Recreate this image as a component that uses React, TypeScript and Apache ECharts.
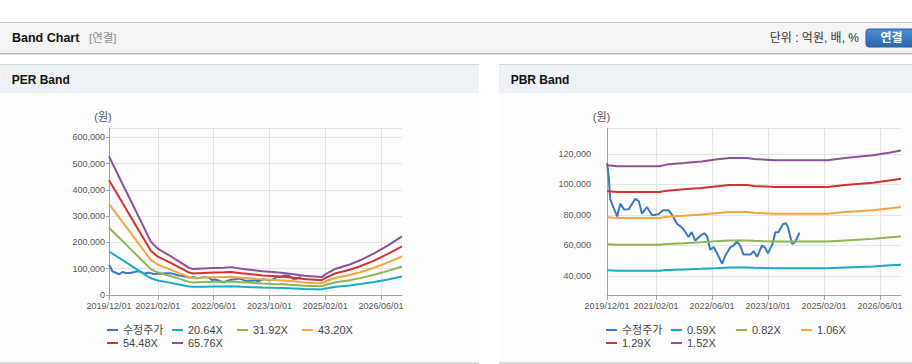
import React, { useEffect, useRef } from "react";
import * as echarts from "echarts";

// ---- x axis (monthly categories from 2019/12) ----
const START_YEAR = 2019;
const START_MONTH = 12;
const MONTH_COUNT = 85; // 2019/12 .. 2026/12
const tickIndices = [0, 14, 30, 46, 62, 78];
const tickLabels = ["2019/12/01", "2021/02/01", "2022/06/01", "2023/10/01", "2025/02/01", "2026/06/01"];

// ---- adjusted price (month offset from 2019/12, won) ----
const priceMonths = [0, 0.45, 0.95, 1.9, 2.9, 3.8, 4.9, 6.2, 8.1, 9.1, 10, 11.4, 12.9, 14.7, 16, 17.6, 18.6, 20, 21, 21.9, 23.3, 24.2, 25.2, 26.7, 27.8, 28.6, 29.5, 30.5, 31.4, 32.9, 33.8, 35.2, 36.2, 37.1, 38.1, 39, 41, 41.9, 42.9, 44.3, 45.2, 46, 47.3, 48.1, 49, 50.3, 51.1, 51.7, 52.9, 53.7, 54.3, 55];
const priceValues = [114000, 106000, 90000, 84600, 79000, 87400, 83500, 83800, 90600, 89000, 80800, 85200, 79800, 80400, 83000, 83000, 80000, 74200, 72500, 70500, 65500, 68700, 63200, 66400, 68000, 66000, 57200, 59000, 55000, 48000, 53300, 58700, 60000, 62700, 59500, 54000, 54000, 56200, 52500, 60000, 58400, 54800, 61000, 68700, 68700, 74000, 74500, 72000, 61000, 62000, 64900, 68400];

// ---- PER band ----
const perMonths = [0, 3, 6, 9, 12, 14, 17, 20, 23, 24, 27, 30, 33, 35, 38, 41, 44, 47, 50, 53, 56, 59, 61, 62, 65, 69, 72, 76, 80, 84];
const per2064 = [165400, 140000, 114600, 89100, 63700, 55200, 48000, 40200, 32300, 31100, 31700, 32300, 32700, 33300, 31400, 29800, 28300, 27300, 26400, 24800, 22900, 22000, 21300, 24500, 31400, 36400, 41400, 49600, 59300, 70000];
const per3192 = [255800, 216500, 177200, 137900, 98500, 85400, 74300, 62100, 50000, 48000, 49000, 50000, 50500, 51500, 48600, 46100, 43700, 42200, 40800, 38300, 35400, 34000, 33000, 37900, 48600, 56300, 64100, 76700, 91700, 108200];
const per4320 = [346200, 293000, 239800, 186600, 133400, 115600, 100500, 84100, 67700, 65000, 66400, 67700, 68300, 69600, 65700, 62400, 59100, 57200, 55200, 51900, 48000, 46000, 44700, 51200, 65700, 76200, 86700, 103800, 124200, 146500];
const per5448 = [436600, 369500, 302400, 235300, 168200, 145800, 126800, 106000, 85300, 82000, 83700, 85300, 86200, 87800, 82900, 78700, 74600, 72100, 69600, 65400, 60500, 58000, 56300, 64600, 82900, 96100, 109400, 130900, 156600, 184700];
const per6576 = [527000, 446000, 365000, 284000, 203000, 176000, 153000, 128000, 103000, 99000, 101000, 103000, 104000, 106000, 100000, 95000, 90000, 87000, 84000, 79000, 73000, 70000, 68000, 78000, 100000, 116000, 132000, 158000, 189000, 223000];
const perNames = ["20.64X", "31.92X", "43.20X", "54.48X", "65.76X"];

// ---- PBR band ----
const pbrMonths = [0, 3, 15, 17, 22, 27, 31, 35, 40, 42, 48, 63, 68, 76, 81, 84];
const pbr059 = [43700, 43400, 43400, 43900, 44300, 44700, 45100, 45600, 45600, 45300, 45000, 45000, 45600, 46200, 47000, 47400];
const pbr082 = [60700, 60400, 60400, 61000, 61500, 62100, 62700, 63300, 63300, 63000, 62500, 62500, 63300, 64300, 65300, 65900];
const pbr106 = [78500, 78000, 78000, 78800, 79500, 80300, 81100, 81900, 81900, 81400, 80800, 80800, 81900, 83100, 84400, 85200];
const pbr129 = [95500, 95000, 95000, 95900, 96800, 97700, 98700, 99600, 99600, 99000, 98300, 98300, 99600, 101100, 102700, 103700];
const pbr152 = [112500, 111900, 111900, 113000, 114000, 115100, 116300, 117400, 117400, 116700, 115800, 115800, 117400, 119100, 121000, 122200];
const pbrNames = ["0.59X", "0.82X", "1.06X", "1.29X", "1.52X"];

const PRICE_NAME = "수정주가";
const bandColors = ["#19abc6", "#8cb551", "#f4a53c", "#d3312c", "#8f4f9c"];
const priceColor = "#3b78c4";
const FF = "'Liberation Sans', Arial, 'Noto Sans CJK KR', sans-serif";

function buildCategories(): string[] {
  const out: string[] = [];
  for (let i = 0; i < MONTH_COUNT; i++) {
    const t = START_MONTH - 1 + i;
    const y = START_YEAR + Math.floor(t / 12);
    const m = (t % 12) + 1;
    out.push(`${y}/${m < 10 ? "0" + m : m}/01`);
  }
  return out;
}

function pairs(xs: number[], ys: number[]) {
  return xs.map((x, i) => [x, ys[i]]);
}

export default function App() {
  const ref = useRef<HTMLDivElement>(null);

  useEffect(() => {
    if (!ref.current) return;
    const chart = echarts.init(ref.current, undefined, { renderer: "svg" });
    const categories = buildCategories();
    const showIdx = (idx: number) => tickIndices.includes(idx);
    const labelFmt = (v: string) => (tickLabels.includes(v) ? v : "");

    const catAxis = (gridIndex: number) => ({
      type: "category",
      gridIndex,
      position: "bottom",
      offset: 0,
      data: categories,
      boundaryGap: false,
      axisLine: { lineStyle: { color: "#a0a0a0" } },
      axisTick: { interval: showIdx, length: 5, lineStyle: { color: "#a0a0a0" } },
      axisLabel: { interval: showIdx, formatter: labelFmt, fontSize: 9, color: "#555", margin: 6, fontFamily: FF },
      splitLine: { show: true, interval: showIdx, lineStyle: { color: "#e4e4e4" } },
    });
    const valAxis = (gridIndex: number) => ({ type: "value", gridIndex, position: "top", min: 0, max: 84, show: false });

    const fmt = (v: number) => v.toLocaleString("en-US");

    const lineSeries = (name: string, color: string, xi: number, yi: number, data: number[][], z: number) => ({
      type: "line",
      name,
      xAxisIndex: xi,
      yAxisIndex: yi,
      data,
      showSymbol: false,
      symbol: "none",
      color,
      lineStyle: { width: 2, color },
      z,
    });

    const perData = [per2064, per3192, per4320, per5448, per6576];
    const pbrData = [pbr059, pbr082, pbr106, pbr129, pbr152];

    const series: any[] = [];
    series.push(lineSeries(PRICE_NAME, priceColor, 0, 0, pairs(priceMonths, priceValues), 2));
    perNames.forEach((n, i) => series.push(lineSeries(n, bandColors[i], 0, 0, pairs(perMonths, perData[i]), 3)));
    series.push(lineSeries(PRICE_NAME, priceColor, 2, 1, pairs(priceMonths, priceValues), 2));
    pbrNames.forEach((n, i) => series.push(lineSeries(n, bandColors[i], 2, 1, pairs(pbrMonths, pbrData[i]), 3)));

    const legend = (data: string[], left: number, top: number) => ({
      data,
      left,
      top,
      padding: 0,
      icon: "rect",
      itemWidth: 11,
      itemHeight: 2,
      itemGap: 4,
      selectedMode: false,
      textStyle: { fontSize: 11, color: "#444", width: 45, lineHeight: 12, fontFamily: FF },
    });

    const panel = (x: number, w: number, title: string) => [
      { type: "rect", shape: { x, y: 64, width: w, height: 29 }, style: { fill: "#eef1f6" }, silent: true },
      { type: "rect", shape: { x, y: 93, width: w, height: 269 }, style: { fill: "#fdfdfd" }, silent: true },
      { type: "line", shape: { x1: x, y1: 64.5, x2: x + w, y2: 64.5 }, style: { stroke: "#d2d6dc", lineWidth: 1 }, silent: true },
      { type: "rect", shape: { x, y: 362, width: w, height: 2 }, style: { fill: "#dcdcdc" }, silent: true },
      { type: "text", x: x + 11.7, y: 80, style: { text: title, font: `bold 12px ${FF}`, fill: "#111", verticalAlign: "middle" }, silent: true },
    ];

    chart.setOption({
      animation: false,
      backgroundColor: "#ffffff",
      graphic: [
        { type: "rect", shape: { x: 0, y: 22, width: 912, height: 31 }, style: { fill: "#f4f4f4" }, silent: true },
        { type: "line", shape: { x1: 0, y1: 22.5, x2: 912, y2: 22.5 }, style: { stroke: "#c4c4c4", lineWidth: 1 }, silent: true },
        { type: "line", shape: { x1: 0, y1: 53.5, x2: 912, y2: 53.5 }, style: { stroke: "#b4b4b4", lineWidth: 1 }, silent: true },
        { type: "line", shape: { x1: 0, y1: 54.5, x2: 912, y2: 54.5 }, style: { stroke: "#e2e2e2", lineWidth: 1 }, silent: true },
        { type: "text", x: 12, y: 38, style: { text: "Band Chart", font: `bold 12.5px ${FF}`, fill: "#111", verticalAlign: "middle" }, silent: true },
        { type: "text", x: 89, y: 38, style: { text: "[연결]", font: `11.5px ${FF}`, fill: "#8a8a8a", verticalAlign: "middle" }, silent: true },
        { type: "text", x: 859, y: 38, style: { text: "단위 : 억원, 배, %", font: `12px ${FF}`, fill: "#333", align: "right", verticalAlign: "middle" }, silent: true },
        {
          type: "rect",
          shape: { x: 866, y: 29, width: 54, height: 18, r: 3 },
          style: {
            fill: new echarts.graphic.LinearGradient(0, 0, 0, 1, [
              { offset: 0, color: "#4c8dd2" },
              { offset: 1, color: "#2a66aa" },
            ]),
            stroke: "#2c5f9a",
            lineWidth: 1,
          },
          silent: true,
        },
        { type: "text", x: 891.5, y: 38, style: { text: "연결", font: `bold 12px ${FF}`, fill: "#ffffff", align: "center", verticalAlign: "middle" }, silent: true },
        ...panel(0, 479, "PER Band"),
        ...panel(499, 413, "PBR Band"),
        { type: "text", x: 103, y: 117, style: { text: "(원)", font: `11px ${FF}`, fill: "#555", align: "center", verticalAlign: "middle" }, silent: true, z: 10 },
        { type: "text", x: 601.5, y: 117, style: { text: "(원)", font: `11px ${FF}`, fill: "#555", align: "center", verticalAlign: "middle" }, silent: true, z: 10 },
      ],
      grid: [
        { left: 109, top: 128, width: 293, height: 167, show: true, borderColor: "#b4b4b4", borderWidth: 1, backgroundColor: "#ffffff" },
        { left: 607, top: 128, width: 294, height: 167, show: true, borderColor: "#b4b4b4", borderWidth: 1, backgroundColor: "#ffffff" },
      ],
      xAxis: [valAxis(0), catAxis(0), valAxis(1), catAxis(1)],
      yAxis: [
        {
          type: "value",
          gridIndex: 0,
          min: 0,
          max: 635000,
          interval: 100000,
          axisLine: { show: true, lineStyle: { color: "#a0a0a0" } },
          axisTick: { show: true, length: 3, lineStyle: { color: "#a0a0a0" } },
          axisLabel: { formatter: fmt, showMaxLabel: false, fontSize: 9, color: "#555", margin: 4, fontFamily: FF },
          splitLine: { lineStyle: { color: "#e4e4e4" } },
        },
        {
          type: "value",
          gridIndex: 1,
          min: 27500,
          max: 137000,
          splitNumber: 5,
          axisLine: { show: true, lineStyle: { color: "#a0a0a0" } },
          axisTick: { show: false },
          axisLabel: { formatter: fmt, showMinLabel: false, showMaxLabel: false, fontSize: 9, color: "#555", margin: 16, fontFamily: FF },
          splitLine: { lineStyle: { color: "#e4e4e4" } },
        },
      ],
      legend: [
        legend([PRICE_NAME, perNames[0], perNames[1], perNames[2]], 107, 324),
        legend([perNames[3], perNames[4]], 107, 337),
        legend([PRICE_NAME, pbrNames[0], pbrNames[1], pbrNames[2]], 606, 324),
        legend([pbrNames[3], pbrNames[4]], 606, 337),
      ],
      series,
    });

    return () => chart.dispose();
  }, []);

  return <div ref={ref} style={{ position: "fixed", left: 0, top: 0, width: 912, height: 364 }} />;
}
